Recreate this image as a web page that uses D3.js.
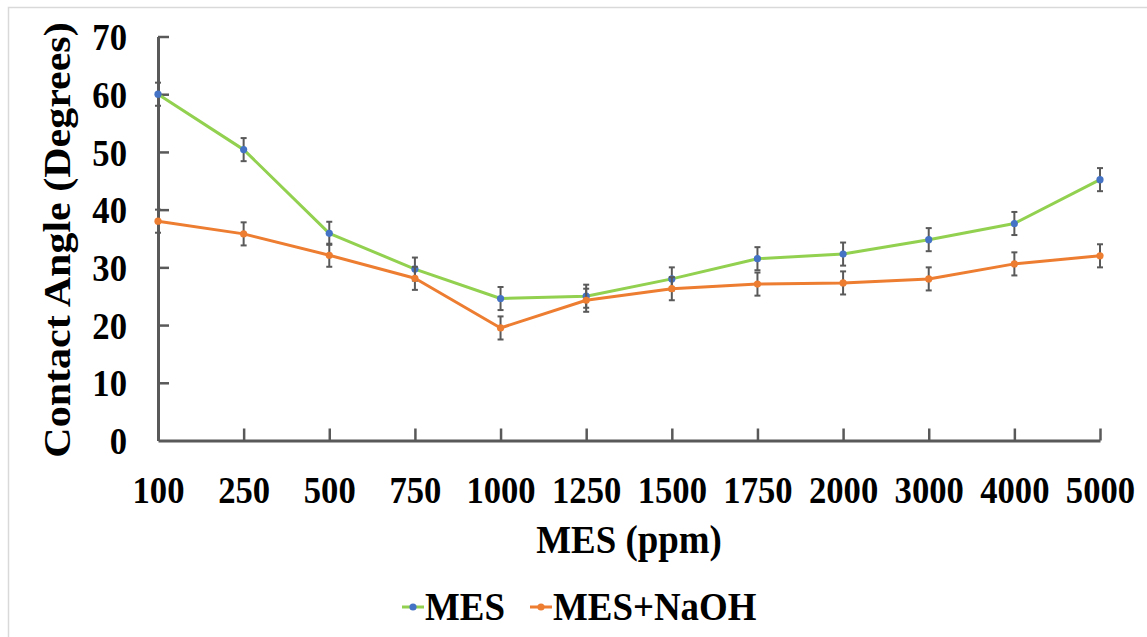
<!DOCTYPE html>
<html>
<head>
<meta charset="utf-8">
<script src="https://cdn.jsdelivr.net/npm/d3@7"></script>
<style>
  html, body { margin: 0; padding: 0; background: #fff; }
  svg { display: block; }
  text { font-family: "Liberation Serif", "Times New Roman", serif; font-weight: bold; fill: #000; }
</style>
</head>
<body>
<svg id="chart" width="1147" height="637"></svg>
<script>
// MES concentration (ppm) on the x axis
const categories = ["100", "250", "500", "750", "1000", "1250", "1500", "1750", "2000", "3000", "4000", "5000"];
// Contact angle (degrees) and error bar half-widths
const mesValues   = [60.0, 50.4, 35.9, 29.7, 24.6, 25.0, 28.0, 31.5, 32.3, 34.8, 37.6, 45.2];
const mesErrors   = [2, 2, 2, 2, 2, 2, 2, 2, 2, 2, 2, 2];
const naohValues  = [38.0, 35.8, 32.1, 28.1, 19.5, 24.3, 26.3, 27.1, 27.3, 28.0, 30.6, 32.0];
const naohErrors  = [2, 2, 2, 2, 2, 2, 2, 2, 2, 2, 2, 2];
const yTicks = [0, 10, 20, 30, 40, 50, 60, 70];
const seriesNames = ["MES", "MES+NaOH"];

const svg = d3.select("#chart");
const axisColor = "#595959";
const sx = 0.9; // horizontal squeeze of the serif lettering

// frame
svg.append("rect")
  .attr("x", 8.5).attr("y", 7.5)
  .attr("width", 1200).attr("height", 700)
  .attr("fill", "none").attr("stroke", "#d9d9d9").attr("stroke-width", 1.5);

const x = d3.scalePoint().domain(categories).range([158, 1100]);
const y = d3.scaleLinear().domain([0, 70]).range([440.5, 36.5]);

// y axis
const yAxis = svg.append("g")
  .attr("transform", "translate(158,0)")
  .call(d3.axisLeft(y).tickValues(yTicks).tickSizeInner(-11).tickSizeOuter(0).tickPadding(0));
yAxis.select(".domain").attr("stroke", axisColor).attr("stroke-width", 3);
yAxis.selectAll(".tick line").attr("stroke", axisColor).attr("stroke-width", 2.5);
yAxis.selectAll(".tick text")
  .attr("x", -31 / sx).attr("dy", "0.34em")
  .attr("transform", `scale(${sx},1)`)
  .style("font-size", "38.5px").attr("fill", "#000");

// x axis
const xAxis = svg.append("g")
  .attr("transform", "translate(0,440.5)")
  .call(d3.axisBottom(x).tickSizeInner(-12).tickSizeOuter(0).tickPadding(0));
xAxis.select(".domain").attr("stroke", axisColor).attr("stroke-width", 3);
xAxis.selectAll(".tick line").attr("stroke", axisColor).attr("stroke-width", 2.5);
xAxis.selectAll(".tick text")
  .attr("y", 62.5).attr("dy", 0)
  .attr("transform", `scale(${sx},1)`)
  .style("font-size", "38.5px").attr("fill", "#000");
svg.selectAll(".tick").filter((d) => d === 0 || d === "100")
  .select("line").attr("opacity", 0);

// axis titles
svg.append("text")
  .attr("transform", `translate(629,553) scale(${sx},1)`)
  .attr("text-anchor", "middle")
  .style("font-size", "41px")
  .text("MES (ppm)");

svg.append("text")
  .attr("transform", `translate(70,240) scale(${sx},1) rotate(-90)`)
  .attr("text-anchor", "middle")
  .style("font-size", "42px")
  .text("Contact Angle (Degrees)");

// series
const series = [
  { name: seriesNames[0], values: mesValues, errors: mesErrors, line: "#92d050", marker: "#4472c4" },
  { name: seriesNames[1], values: naohValues, errors: naohErrors, line: "#ed7d31", marker: "#ed7d31" }
];

const lineGen = d3.line().x((d) => x(d.c)).y((d) => y(d.v));

series.forEach((s) => {
  const pts = categories.map((c, i) => ({ c, v: s.values[i], e: s.errors[i] }));
  s.pts = pts;
  svg.append("path")
    .datum(pts)
    .attr("d", lineGen)
    .attr("fill", "none")
    .attr("stroke", s.line)
    .attr("stroke-width", 3)
    .attr("stroke-linejoin", "round");
});

series.forEach((s) => {
  const g = svg.append("g");
  const eb = g.selectAll("g.err").data(s.pts).join("g").attr("class", "err");
  eb.append("line")
    .attr("x1", (d) => x(d.c)).attr("x2", (d) => x(d.c))
    .attr("y1", (d) => y(d.v - d.e)).attr("y2", (d) => y(d.v + d.e))
    .attr("stroke", axisColor).attr("stroke-width", 2);
  [1, -1].forEach((sign) => {
    eb.append("line")
      .attr("x1", (d) => x(d.c) - 3).attr("x2", (d) => x(d.c) + 3)
      .attr("y1", (d) => y(d.v + sign * d.e)).attr("y2", (d) => y(d.v + sign * d.e))
      .attr("stroke", axisColor).attr("stroke-width", 2);
  });
  g.selectAll("circle").data(s.pts).join("circle")
    .attr("cx", (d) => x(d.c)).attr("cy", (d) => y(d.v))
    .attr("r", 3.6).attr("fill", s.marker);
});

// legend
const legendItems = [
  { s: series[0], x0: 402, tx: 425 },
  { s: series[1], x0: 530, tx: 553 }
];
legendItems.forEach((it) => {
  const g = svg.append("g");
  g.append("line")
    .attr("x1", it.x0).attr("x2", it.x0 + 22)
    .attr("y1", 607).attr("y2", 607)
    .attr("stroke", it.s.line).attr("stroke-width", 3);
  g.append("circle")
    .attr("cx", it.x0 + 11).attr("cy", 607).attr("r", 3.6)
    .attr("fill", it.s.marker);
  g.append("text")
    .attr("transform", `translate(${it.tx},620) scale(${sx},1)`)
    .style("font-size", "41px")
    .text(it.s.name);
});
</script>
</body>
</html>
